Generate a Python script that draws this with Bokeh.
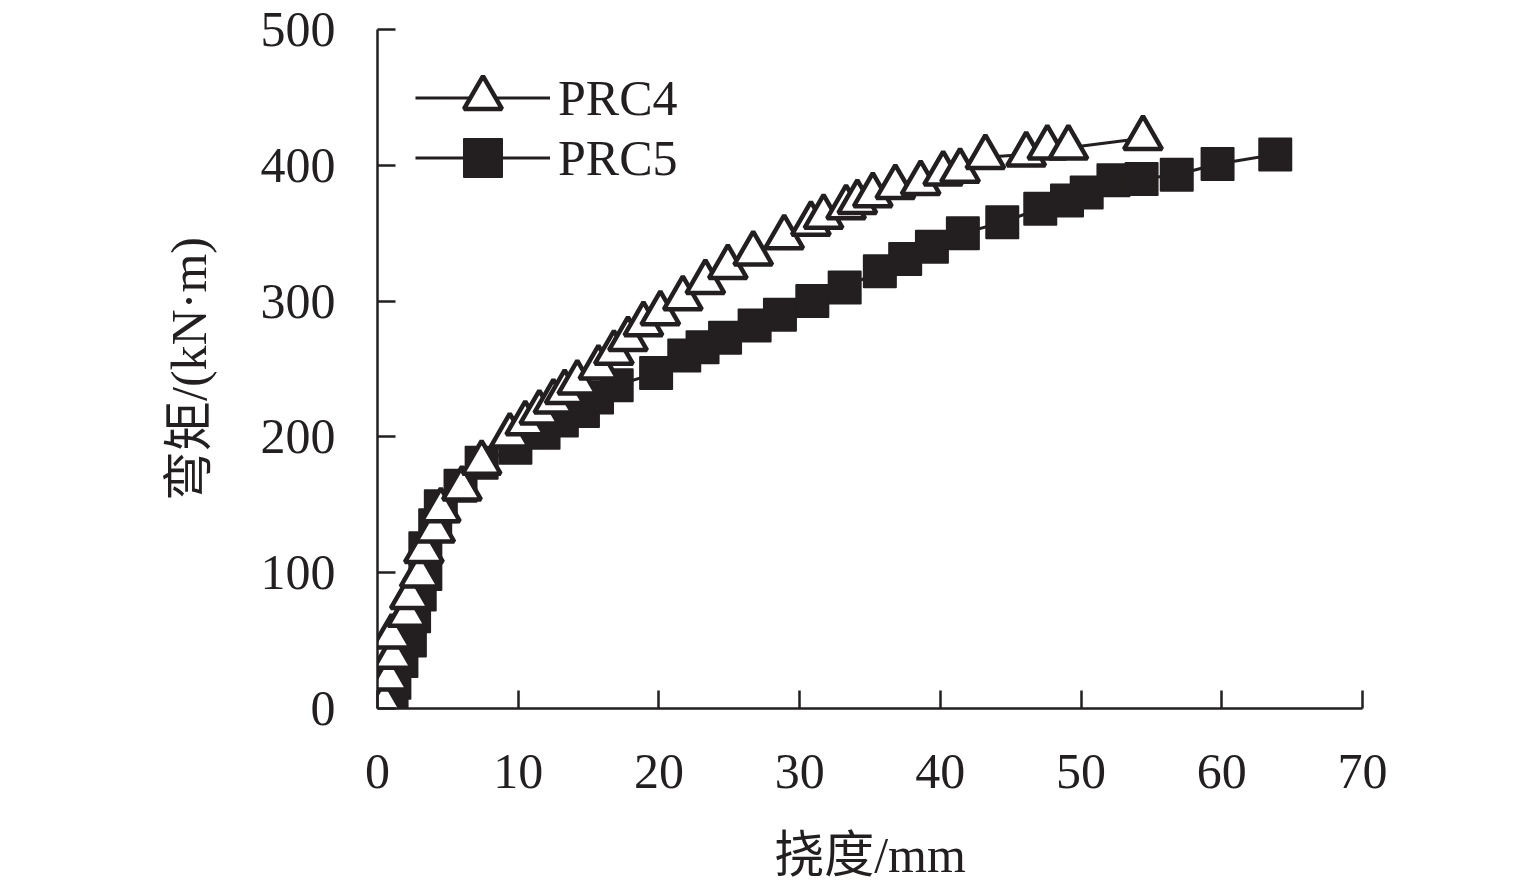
from bokeh.plotting import figure
from bokeh.models import Range1d, FixedTicker, Legend, LegendItem
from bokeh.embed import file_html
from bokeh.resources import INLINE

# PRC4 (deflection mm, moment kN·m)
prc4_x = [0.5, 0.8, 1.1, 1.0, 2.1, 2.3, 3.0, 3.3, 4.1, 4.5, 6.0, 7.4, 9.4, 10.5, 11.5,
          12.5, 13.3, 14.2, 15.7, 16.8, 17.8, 18.9, 20.1, 21.7, 23.3, 24.9, 26.7, 28.9,
          30.8, 31.7, 33.3, 34.1, 35.2, 36.8, 38.6, 40.2, 41.4, 43.2, 46.1, 47.6, 49.1, 54.4]
prc4_y = [4, 22, 38, 53, 69, 82, 98, 116, 131, 146, 162, 181, 201, 210, 218,
          226, 233, 240, 251, 262, 272, 283, 291, 302, 314, 325, 335, 347,
          357, 362, 369, 373, 378, 384, 387, 394, 396, 406, 408, 413, 413, 420]

# PRC5
prc5_x = [1.0, 1.2, 1.7, 2.3, 2.6, 3.0, 3.4, 3.4, 4.1, 4.5, 5.9, 7.4, 9.8, 11.8, 13.1,
          14.6, 15.6, 17.0, 19.8, 21.8, 23.1, 24.7, 26.8, 28.6, 30.9, 33.2, 35.7, 37.5,
          39.4, 41.6, 44.4, 47.1, 49.0, 50.4, 52.3, 54.3, 56.8, 59.7, 63.8]
prc5_y = [4, 19, 35, 50, 68, 84, 99, 118, 135, 149, 164, 181, 192, 203, 212,
          219, 229, 238, 247, 260, 266, 273, 282, 290, 300, 310, 322, 331,
          340, 350, 358, 368, 374, 380, 389, 390, 393, 401, 408]

x_ticks = [0, 10, 20, 30, 40, 50, 60, 70]
y_ticks = [0, 100, 200, 300, 400, 500]

x_label = "挠度/mm"
y_label = "弯矩/(kN·m)"
series_names = ["PRC4", "PRC5"]

C = "#231f20"
FONT = "Liberation Serif, Noto Sans CJK SC"

p = figure(frame_width=985, frame_height=679, output_backend="svg", toolbar_location=None,
           x_range=Range1d(0, 70), y_range=Range1d(0, 500),
           min_border_left=377, min_border_right=160, min_border_top=29, min_border_bottom=160)
p.background_fill_color = "white"
p.border_fill_color = "white"
p.outline_line_color = None
p.xgrid.visible = False
p.ygrid.visible = False

p.xaxis.ticker = FixedTicker(ticks=x_ticks)
p.yaxis.ticker = FixedTicker(ticks=y_ticks)

for ax in (p.xaxis[0], p.yaxis[0]):
    ax.axis_line_width = 2.5
    ax.axis_line_color = C
    ax.major_tick_line_width = 2.5
    ax.major_tick_line_color = C
    ax.major_tick_in = 18
    ax.major_tick_out = 0
    ax.minor_tick_line_color = None
    ax.major_label_text_font = FONT
    ax.major_label_text_font_size = "50px"
    ax.major_label_text_color = C
    ax.axis_label_text_font = FONT
    ax.axis_label_text_font_size = "50px"
    ax.axis_label_text_font_style = "normal"
    ax.axis_label_text_color = C

p.xaxis.major_label_standoff = 46
p.yaxis.major_label_standoff = 42
p.xaxis.axis_label = x_label
p.yaxis.axis_label = y_label
p.xaxis.axis_label_standoff = 36
p.yaxis.axis_label_standoff = 41

r5l = p.line(prc5_x, prc5_y, line_width=3, line_color=C)
r5s = p.scatter(prc5_x, prc5_y, marker="square", size=32, fill_color=C,
                line_color=C, line_width=2, line_join="round")
r4l = p.line(prc4_x, prc4_y, line_width=3, line_color=C)
r4s = p.scatter(prc4_x, prc4_y, marker="triangle", size=38, fill_color="white",
                line_color=C, line_width=4.5)

common = dict(glyph_width=135, glyph_height=95, label_standoff=8,
              label_text_font=FONT, label_text_font_size="50px", label_text_color=C,
              padding=0, margin=0, background_fill_alpha=0, border_line_color=None)
leg4 = Legend(items=[LegendItem(label=series_names[0], renderers=[r4l, r4s])],
              location=(38, 563), **common)
leg5 = Legend(items=[LegendItem(label=series_names[1], renderers=[r5l, r5s])],
              location=(38, 503), **common)
p.add_layout(leg4)
p.add_layout(leg5)

open("out.html", "w").write(file_html(p, INLINE))
